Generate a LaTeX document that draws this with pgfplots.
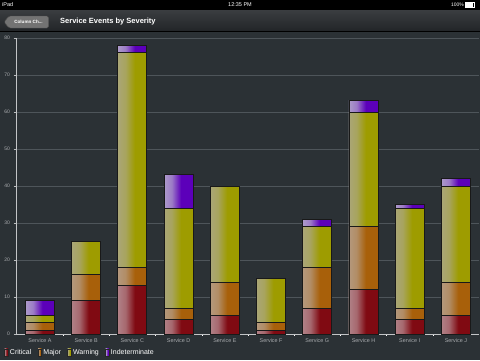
\documentclass[border=0pt]{standalone}
\usepackage{pgfplots}
\pgfplotsset{compat=1.18}
\usepackage{fontspec}
\setmainfont{Liberation Sans}
\definecolor{bg}{RGB}{43,49,53}
\definecolor{navtop}{RGB}{58,61,64}
\definecolor{navbot}{RGB}{34,37,40}
\definecolor{gridc}{RGB}{78,85,90}
\definecolor{tickc}{RGB}{170,172,175}
\definecolor{critL}{RGB}{176,128,134}
\definecolor{critR}{RGB}{128,10,18}
\definecolor{majL}{RGB}{180,152,124}
\definecolor{majR}{RGB}{168,96,10}
\definecolor{warnL}{RGB}{170,166,118}
\definecolor{warnR}{RGB}{158,156,0}
\definecolor{indL}{RGB}{172,154,202}
\definecolor{indR}{RGB}{92,0,186}
\pgfdeclarehorizontalshading{critsh}{100bp}{color(0bp)=(critL); color(25bp)=(critL); color(38bp)=(critL!80!critR); color(54bp)=(critR); color(100bp)=(critR)}
\pgfdeclarehorizontalshading{majsh}{100bp}{color(0bp)=(majL); color(25bp)=(majL); color(38bp)=(majL!80!majR); color(54bp)=(majR); color(100bp)=(majR)}
\pgfdeclarehorizontalshading{warnsh}{100bp}{color(0bp)=(warnL); color(25bp)=(warnL); color(38bp)=(warnL!80!warnR); color(54bp)=(warnR); color(100bp)=(warnR)}
\pgfdeclarehorizontalshading{indsh}{100bp}{color(0bp)=(indL); color(25bp)=(indL); color(38bp)=(indL!80!indR); color(54bp)=(indR); color(100bp)=(indR)}
\pgfplotsset{
  segbase/.style={ybar, bar width=29pt, bar shift=0pt, draw=black!90, line width=0.9pt, forget plot},
  crit/.style={segbase, shade, shading=critsh},
  maj/.style={segbase, shade, shading=majsh},
  warn/.style={segbase, shade, shading=warnsh},
  ind/.style={segbase, shade, shading=indsh},
}
\begin{document}
\begin{tikzpicture}
\useasboundingbox (0pt,0pt) rectangle (480pt,360pt);
% backgrounds
\fill[bg] (0pt,0pt) rectangle (480pt,329pt);
\shade[top color=navtop, bottom color=navbot] (0pt,329pt) rectangle (480pt,350pt);
\draw[black, line width=0.6pt] (0pt,329pt) -- (480pt,329pt);
\fill[black] (0pt,350pt) rectangle (480pt,360pt);
% status bar
\node[anchor=west, text=white, font=\fontsize{5.5}{6}\selectfont, inner sep=0pt] at (2pt,355pt) {iPad};
\node[text=white, font=\fontsize{5.5}{6}\selectfont, inner sep=0pt] at (240pt,355pt) {12:35 PM};
\node[anchor=east, text=white, font=\fontsize{5}{6}\selectfont, inner sep=0pt] at (464pt,355pt) {100\%};
\draw[white, line width=0.5pt] (465.5pt,352.6pt) rectangle (474pt,357.4pt);
\fill[white] (466.3pt,353.3pt) rectangle (473.2pt,356.7pt);
\fill[white] (474pt,354.2pt) rectangle (474.9pt,355.8pt);
% navigation bar
\draw[black!70, fill=black!55, rounded corners=1.5pt] (4pt,338pt) -- (9pt,344pt) -- (48.5pt,344pt) -- (48.5pt,332pt) -- (9pt,332pt) -- cycle;
\node[text=white, font=\bfseries\fontsize{4.6}{5}\selectfont, inner sep=0pt] at (28.5pt,338pt) {Column Ch...};
\node[anchor=west, text=white, font=\bfseries\fontsize{7.5}{8}\selectfont, inner sep=0pt] at (60pt,338.5pt) {Service Events by Severity};
\begin{axis}[
  at={(16pt,26pt)}, anchor=south west,
  scale only axis, width=463pt, height=296pt,
  xmin=-0.52, xmax=9.5, ymin=0, ymax=80,
  axis x line*=bottom, axis y line*=left,
  axis line style={draw=tickc!70, line width=0.5pt},
  xtick={0,...,9},
  xticklabels={Service A,Service B,Service C,Service D,Service E,Service F,Service G,Service H,Service I,Service J},
  x tick label style={font=\fontsize{5.4}{6}\selectfont, text=tickc, yshift=1pt},
  minor xtick={0.5,1.5,...,8.5},
  minor tick length=1.5pt,
  minor x tick style={draw=white},
  ytick={0,10,...,80},
  y tick label style={font=\fontsize{5}{6}\selectfont, text=tickc},
  /pgf/number format/assume math mode=true,
  major tick length=2.5pt,
  tick align=outside,
  major x tick style={draw=none},
  y tick style={draw=tickc!80},
  ymajorgrids, grid style={draw=gridc, line width=0.5pt},
  legend style={at={(-0.032,-0.062)}, anchor=west, draw=none, fill=none,
    text=white, font=\fontsize{7}{8}\selectfont, legend columns=4,
    /tikz/every even column/.append style={column sep=4.5pt}},
  legend image code/.code={\draw[#1, line width=0.4pt] (0pt,-3.4pt) rectangle (3.2pt,3.4pt);},
]
% Indeterminate: cumulative top (total)
\addplot[ind] coordinates {(0,9)};
\addplot[ind] coordinates {(1,25)};
\addplot[ind] coordinates {(2,78)};
\addplot[ind] coordinates {(3,43)};
\addplot[ind] coordinates {(4,40)};
\addplot[ind] coordinates {(5,15)};
\addplot[ind] coordinates {(6,31)};
\addplot[ind] coordinates {(7,63)};
\addplot[ind] coordinates {(8,35)};
\addplot[ind] coordinates {(9,42)};
% Warning: cumulative top
\addplot[warn] coordinates {(0,5)};
\addplot[warn] coordinates {(1,25)};
\addplot[warn] coordinates {(2,76)};
\addplot[warn] coordinates {(3,34)};
\addplot[warn] coordinates {(4,40)};
\addplot[warn] coordinates {(5,15)};
\addplot[warn] coordinates {(6,29)};
\addplot[warn] coordinates {(7,60)};
\addplot[warn] coordinates {(8,34)};
\addplot[warn] coordinates {(9,40)};
% Major: cumulative top
\addplot[maj] coordinates {(0,3)};
\addplot[maj] coordinates {(1,16)};
\addplot[maj] coordinates {(2,18)};
\addplot[maj] coordinates {(3,7)};
\addplot[maj] coordinates {(4,14)};
\addplot[maj] coordinates {(5,3)};
\addplot[maj] coordinates {(6,18)};
\addplot[maj] coordinates {(7,29)};
\addplot[maj] coordinates {(8,7)};
\addplot[maj] coordinates {(9,14)};
% Critical
\addplot[crit] coordinates {(0,1)};
\addplot[crit] coordinates {(1,9)};
\addplot[crit] coordinates {(2,13)};
\addplot[crit] coordinates {(3,4)};
\addplot[crit] coordinates {(4,5)};
\addplot[crit] coordinates {(5,1)};
\addplot[crit] coordinates {(6,7)};
\addplot[crit] coordinates {(7,12)};
\addplot[crit] coordinates {(8,4)};
\addplot[crit] coordinates {(9,5)};
\addlegendimage{shade, shading=critsh, draw=black!85}
\addlegendentry{Critical}
\addlegendimage{shade, shading=majsh, draw=black!85}
\addlegendentry{Major}
\addlegendimage{shade, shading=warnsh, draw=black!85}
\addlegendentry{Warning}
\addlegendimage{shade, shading=indsh, draw=black!85}
\addlegendentry{Indeterminate}
\end{axis}
\end{tikzpicture}
\end{document}
